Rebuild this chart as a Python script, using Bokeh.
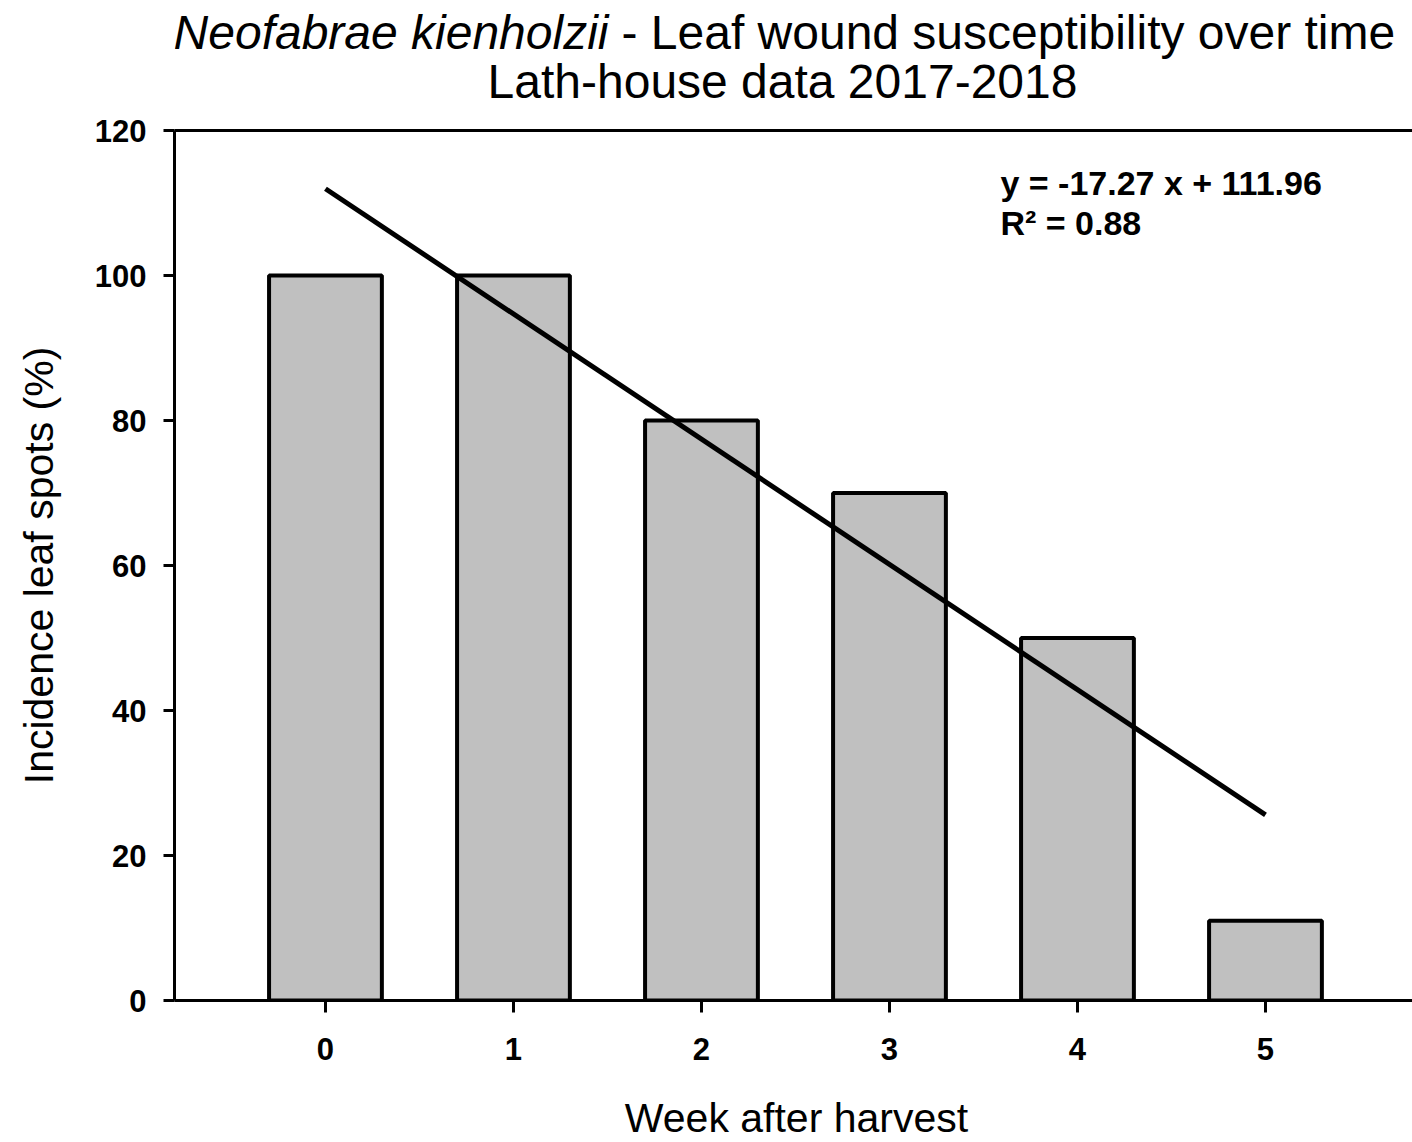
from bokeh.plotting import figure
from bokeh.models import LinearAxis, Label, FixedTicker, Range1d
from bokeh.layouts import column
from bokeh.embed import file_html
from bokeh.resources import INLINE

# ---- data ----
weeks = [0, 1, 2, 3, 4, 5]
incidence = [100, 100, 80, 70, 50, 11]
week_ticks = [0, 1, 2, 3, 4, 5]
y_ticks = [0, 20, 40, 60, 80, 100, 120]
fit_x = [0, 5]
fit_y = [111.96, 25.61]
title_italic = "Neofabrae kienholzii"
title_rest = "- Leaf wound susceptibility over time"
title_line2 = "Lath-house data 2017-2018"
eq_line1 = "y = -17.27 x + 111.96"
eq_line2 = "R\u00b2 = 0.88"
x_title = "Week after harvest"
y_title = "Incidence leaf spots (%)"

FONT = "Liberation Sans"
W = 1412
TOTAL_H = 1142
HEAD_H = 110
FOOT_H = 62
LEFT = 174


def blank(h):
    f = figure(width=W, height=h, output_backend="svg", toolbar_location=None,
               x_range=Range1d(LEFT, W), y_range=Range1d(0, h),
               x_axis_location=None, y_axis_location=None,
               min_border_left=LEFT, min_border_right=0,
               min_border_top=0, min_border_bottom=0)
    f.grid.visible = False
    f.outline_line_color = None
    return f


def lab(fig, x, y, text, size, style="normal", align="left"):
    fig.add_layout(Label(x=x, y=y, text=text, text_font=FONT, text_font_size=size,
                         text_font_style=style, text_align=align, text_baseline="middle",
                         text_color="black"))


# ---- header with the two title lines ----
head = blank(HEAD_H)
lab(head, 608, HEAD_H - 32, title_italic, "48px", "italic", "right")
lab(head, 621, HEAD_H - 32, title_rest, "48px", "normal", "left")
lab(head, 782, HEAD_H - 81, title_line2, "48px", "normal", "center")

# ---- main chart ----
p = figure(width=W, height=TOTAL_H - HEAD_H - FOOT_H, output_backend="svg", toolbar_location=None,
           x_range=Range1d(-0.803, 5.782), y_range=Range1d(0, 120),
           x_axis_location=None, y_axis_location=None,
           min_border_left=LEFT, min_border_right=0, min_border_top=20,
           min_border_bottom=142 - FOOT_H)
p.grid.visible = False
p.outline_line_color = None

yax = LinearAxis(ticker=FixedTicker(ticks=y_ticks))
yax.axis_line_width = 3
yax.major_tick_line_width = 3
yax.major_tick_out = 11
yax.major_tick_in = 0
yax.minor_tick_line_color = None
yax.major_label_text_font = FONT
yax.major_label_text_font_style = "bold"
yax.major_label_text_font_size = "31px"
yax.major_label_text_color = "black"
yax.major_label_standoff = 17
yax.axis_label = y_title
yax.axis_label_text_font = FONT
yax.axis_label_text_font_style = "normal"
yax.axis_label_text_font_size = "41px"
yax.axis_label_text_color = "black"
yax.axis_label_standoff = 30
p.add_layout(yax, "left")

xax = LinearAxis(ticker=FixedTicker(ticks=week_ticks))
xax.axis_line_width = 3
xax.major_tick_line_width = 3
xax.major_tick_out = 12
xax.major_tick_in = 0
xax.minor_tick_line_color = None
xax.major_label_text_font = FONT
xax.major_label_text_font_style = "bold"
xax.major_label_text_font_size = "31px"
xax.major_label_text_color = "black"
xax.major_label_standoff = 25
p.add_layout(xax, "below")

top = LinearAxis(ticker=FixedTicker(ticks=[]))
top.axis_line_width = 3
top.major_tick_line_color = None
top.major_tick_out = 0
top.major_tick_in = 0
top.minor_tick_line_color = None
top.major_label_text_font_size = "0px"
top.major_label_standoff = 0
p.add_layout(top, "above")

p.vbar(x=weeks, top=incidence, width=0.6, bottom=0,
       fill_color="#c0c0c0", line_color="black", line_width=4)
p.line(x=fit_x, y=fit_y, line_color="black", line_width=5)

lab(p, 3.59, 112.7, eq_line1, "34px", "bold", "left")
lab(p, 3.59, 107.3, eq_line2, "34px", "bold", "left")

# ---- footer with the x-axis title ----
foot = blank(FOOT_H)
lab(foot, 796, FOOT_H - 37, x_title, "41px", "normal", "center")

layout = column(head, p, foot, spacing=0)
open("out.html", "w").write(file_html(layout, INLINE))
